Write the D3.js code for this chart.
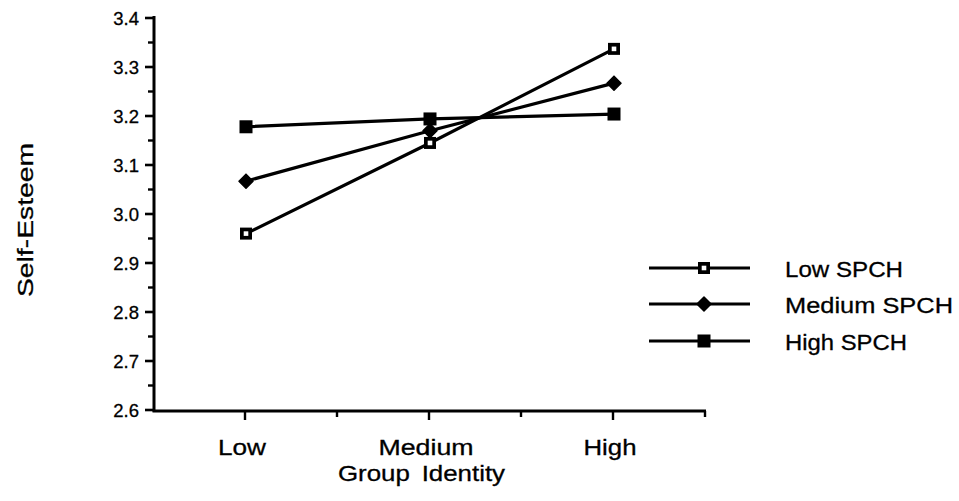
<!DOCTYPE html>
<html>
<head>
<meta charset="utf-8">
<script src="https://cdn.jsdelivr.net/npm/d3@7"></script>
<style>
  html, body { margin: 0; padding: 0; background: #fff; }
  svg { display: block; }
  text { font-family: "Liberation Sans", Arial, Helvetica, sans-serif; fill: #000; stroke: #000; stroke-width: 0.3px; }
</style>
</head>
<body>
<svg id="chart" width="959" height="501"></svg>
<script>
// Group identity levels along the x axis
const categories = ["Low", "Medium", "High"];

// Self-esteem means for each SPCH group
const lowSPCH = [2.96, 3.145, 3.337];
const mediumSPCH = [3.067, 3.17, 3.267];
const highSPCH = [3.178, 3.194, 3.204];

const seriesNames = ["Low SPCH", "Medium SPCH", "High SPCH"];
const seriesMarkers = ["openSquare", "diamond", "filledSquare"];

const yTicks = [2.6, 2.7, 2.8, 2.9, 3.0, 3.1, 3.2, 3.3, 3.4];
const yMinorTicks = [2.65, 2.75, 2.85, 2.95, 3.05, 3.15, 3.25, 3.35];

const series = [lowSPCH, mediumSPCH, highSPCH].map((vals, i) => ({
  name: seriesNames[i], marker: seriesMarkers[i], values: vals
}));

const svg = d3.select("#chart");

const x = d3.scaleLinear().domain([-0.5, 2.5]).range([154, 706]);
const y = d3.scaleLinear().domain([2.6, 3.4]).range([410, 18]);

const strokeW = 3.2;
const labelFont = 22.5;

// Wide grotesque lettering: fit each label to its set width
function wideText(sel, str, width) {
  return sel.append("text")
    .attr("font-size", labelFont)
    .attr("textLength", width)
    .attr("lengthAdjust", "spacingAndGlyphs")
    .text(str);
}

// Y axis
const yAxis = svg.append("g").attr("transform", `translate(${x(-0.5)},0)`);
yAxis.append("line")
  .attr("y1", y(3.4) - 2).attr("y2", y(2.6) + 1.5)
  .attr("stroke", "#000").attr("stroke-width", 3);
yAxis.selectAll(".major").data(yTicks).join("line")
  .attr("x1", -9).attr("x2", 0)
  .attr("y1", d => y(d)).attr("y2", d => y(d))
  .attr("stroke", "#000").attr("stroke-width", 2.6);
yAxis.selectAll(".minor").data(yMinorTicks).join("line")
  .attr("x1", -6).attr("x2", 0)
  .attr("y1", d => y(d)).attr("y2", d => y(d))
  .attr("stroke", "#000").attr("stroke-width", 2.4);
yAxis.selectAll("text").data(yTicks).join("text")
  .attr("x", -15).attr("y", d => y(d))
  .attr("dy", "0.36em")
  .attr("text-anchor", "end")
  .attr("font-size", 18.5)
  .text(d => d.toFixed(1));

// X axis
const xAxis = svg.append("g").attr("transform", `translate(0,${y(2.6) + 1})`);
xAxis.append("line")
  .attr("x1", x(-0.5) - 1.5).attr("x2", x(2.5))
  .attr("stroke", "#000").attr("stroke-width", 3);
const xMinor = [0.5, 1.5, 2.5];
xAxis.selectAll(".major").data(d3.range(categories.length)).join("line")
  .attr("x1", d => x(d) - 1).attr("x2", d => x(d) - 1)
  .attr("y1", 0).attr("y2", 9)
  .attr("stroke", "#000").attr("stroke-width", 2.4);
xAxis.selectAll(".minor").data(xMinor).join("line")
  .attr("x1", d => x(d) - 1).attr("x2", d => x(d) - 1)
  .attr("y1", 0).attr("y2", 6)
  .attr("stroke", "#000").attr("stroke-width", 2.4);

const xLabelWidths = [48, 95, 53];
categories.forEach((c, i) => {
  wideText(xAxis, c, xLabelWidths[i])
    .attr("x", x(i) - 4 - xLabelWidths[i] / 2)
    .attr("y", 44);
});

// Axis titles
wideText(svg, "Group Identity", 167)
  .attr("x", 338).attr("y", 481)
  .attr("word-spacing", 4);

wideText(svg, "Self-Esteem", 154)
  .attr("transform", "translate(33,297) rotate(-90)");

// Marker drawing
function drawMarker(g, type, cx, cy) {
  if (type === "openSquare") {
    g.append("rect").attr("x", cx - 6).attr("y", cy - 6)
      .attr("width", 12).attr("height", 12).attr("fill", "#000");
    g.append("rect").attr("x", cx - 2.3).attr("y", cy - 2.3)
      .attr("width", 4.6).attr("height", 4.6).attr("fill", "#fff");
  } else if (type === "filledSquare") {
    g.append("rect").attr("x", cx - 6.5).attr("y", cy - 6.5)
      .attr("width", 13).attr("height", 13).attr("fill", "#000");
  } else {
    const r = 7;
    g.append("path")
      .attr("d", `M${cx},${cy - r}L${cx + r},${cy}L${cx},${cy + r}L${cx - r},${cy}Z`)
      .attr("fill", "#000").attr("stroke", "#000")
      .attr("stroke-width", 1.5).attr("stroke-linejoin", "round");
  }
}

// Series lines and markers
const line = d3.line().x((d, i) => x(i)).y(d => y(d));
const plot = svg.append("g");
series.forEach(s => {
  plot.append("path")
    .attr("d", line(s.values))
    .attr("fill", "none")
    .attr("stroke", "#000")
    .attr("stroke-width", strokeW);
});
series.forEach(s => {
  const g = plot.append("g");
  s.values.forEach((v, i) => drawMarker(g, s.marker, x(i), y(v)));
});

// Legend
const legendY = [268, 304, 341];
const legendWidths = [118, 168, 122];
const legend = svg.append("g");
series.forEach((s, i) => {
  const ly = legendY[i];
  legend.append("line")
    .attr("x1", 649).attr("x2", 750)
    .attr("y1", ly).attr("y2", ly)
    .attr("stroke", "#000").attr("stroke-width", strokeW);
  drawMarker(legend, s.marker, 704, ly);
  wideText(legend, s.name, legendWidths[i])
    .attr("x", 785).attr("y", ly + 9);
});
</script>
</body>
</html>
